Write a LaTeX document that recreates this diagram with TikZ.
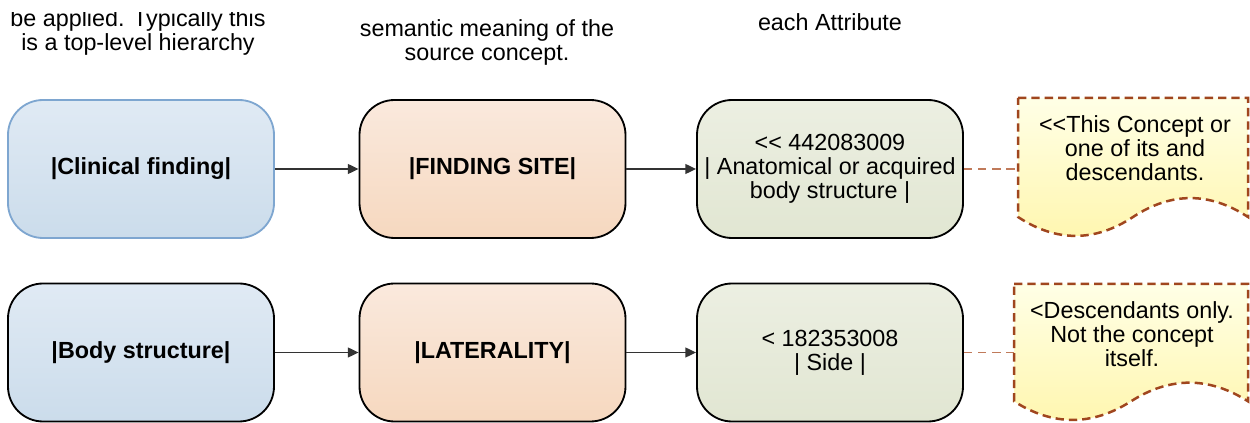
\documentclass[tikz,border=0pt]{standalone}
\usepackage{fontspec}
\setmainfont{Liberation Sans}
\usetikzlibrary{arrows.meta}
\definecolor{blueT}{HTML}{E0EAF4}
\definecolor{blueB}{HTML}{CBDCEB}
\definecolor{blueL}{HTML}{7EA6D0}
\definecolor{peachT}{HTML}{FAE9DD}
\definecolor{peachB}{HTML}{F6D8BF}
\definecolor{greenT}{HTML}{ECEFE2}
\definecolor{greenB}{HTML}{E1E6D2}
\definecolor{noteT}{HTML}{FFFFE6}
\definecolor{noteB}{HTML}{FFF6AE}
\definecolor{noteL}{HTML}{A0461E}
\definecolor{conL}{HTML}{C07A5A}
\definecolor{arrL}{HTML}{333333}
\tikzset{
  txt/.style={font=\fontsize{14}{14.4}\selectfont, align=center, inner sep=0pt},
  box/.style={txt, rectangle, rounded corners=21pt, minimum width=159.6pt, minimum height=82.8pt, draw=black, line width=1.1pt},
  bluebox/.style={box, top color=blueT, bottom color=blueB},
  peachbox/.style={box, top color=peachT, bottom color=peachB},
  greenbox/.style={box, top color=greenT, bottom color=greenB},
  arr/.style={draw=arrL, line width=0.9pt, -{Triangle[length=6.5pt,width=6pt]}},
  notebox/.style={draw=noteL, line width=1.5pt, dash pattern=on 5pt off 3pt, top color=noteT, bottom color=noteB},
  dashcon/.style={draw=conL, line width=0.8pt, dash pattern=on 5pt off 3.5pt}
}
\begin{document}
\begin{tikzpicture}[x=0.6pt,y=-0.6pt]
\useasboundingbox (0,0) rectangle (1250,423);
% header texts (cut off at the top, as in the reference)
\begin{scope}
\clip (0,13) rectangle (1250,70);
\node[txt] (h1) at (138,32) {be applied. Typically this\\is a top-level hierarchy};
\node[txt] (h3) at (830,22) {each Attribute};
\end{scope}
\node[txt] (h2) at (487,42) {semantic meaning of the\\source concept.};
% row 1
\node[bluebox, draw=blueL] (cf) at (141,169) {\textbf{|Clinical finding|}};
\node[peachbox] (fs) at (492.5,169) {\textbf{|FINDING SITE|}};
\node[greenbox] (ab) at (830,169) {<{}< 442083009\\| Anatomical or acquired\\body structure |};
% row 2
\node[bluebox] (bs) at (141,352.5) {\textbf{|Body structure|}};
\node[peachbox] (lat) at (492.5,352.5) {\textbf{|LATERALITY|}};
\node[greenbox] (sd) at (830,352.5) {< 182353008\\| Side |};
% notes
\path[notebox] (1018,98) -- (1248,98) -- (1248,217)
  .. controls (1209.67,191.8) and (1171.33,191.8) .. (1133,217)
  .. controls (1094.67,242.2) and (1056.33,242.2) .. (1018,217) -- cycle;
\node[txt] (n1) at (1135,148.5) {<{}<This Concept or\\one of its and\\descendants.};
\coordinate (n1w) at (1018,169);
\path[notebox] (1014,284) -- (1248,284) -- (1248,401.3)
  .. controls (1209,376.46) and (1170,376.46) .. (1131,401.3)
  .. controls (1092,426.14) and (1053,426.14) .. (1014,401.3) -- cycle;
\node[txt] (n2) at (1132,334) {<Descendants only.\\Not the concept\\itself.};
\coordinate (n2w) at (1014,352.5);
% connectors
\draw[arr] (cf) -- (fs);
\draw[arr] (fs) -- (ab);
\draw[arr] (bs) -- (lat);
\draw[arr] (lat) -- (sd);
\draw[dashcon] (ab) -- (n1w);
\draw[dashcon] (sd) -- (n2w);
\end{tikzpicture}
\end{document}
